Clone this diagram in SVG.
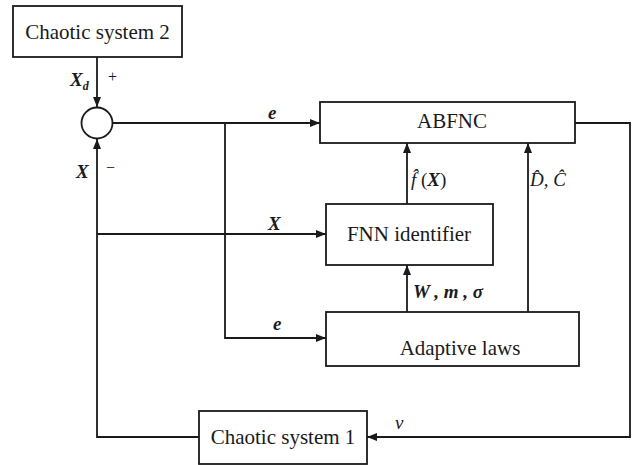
<svg xmlns="http://www.w3.org/2000/svg" width="633" height="465" viewBox="0 0 633 465">
<style>
.box{fill:#fff;stroke:#1a1a1a;stroke-width:1.8}
.ln{fill:none;stroke:#1a1a1a;stroke-width:1.8}
.t{font-family:"Liberation Serif","Times New Roman",serif;font-size:21px;fill:#1a1a1a;text-anchor:middle}
.m{font-family:"Liberation Serif","Times New Roman",serif;font-size:19px;font-style:italic;font-weight:bold;fill:#1a1a1a}
.mi{font-family:"Liberation Serif","Times New Roman",serif;font-size:19px;font-style:italic;font-weight:normal;fill:#1a1a1a}
.s{font-family:"Liberation Serif","Times New Roman",serif;font-size:16px;fill:#1a1a1a}
</style>
<defs>
<marker id="ah" viewBox="0 0 10 8" refX="10" refY="4" markerWidth="10" markerHeight="8" markerUnits="userSpaceOnUse" orient="auto">
<path d="M0,0 L10,4 L0,8 Z" fill="#1a1a1a"/>
</marker>
</defs>
<rect width="633" height="465" fill="#fff"/>
<g id="connectors">
<line class="ln" x1="97" y1="57" x2="97" y2="107" marker-end="url(#ah)"/>
<line class="ln" x1="113" y1="123" x2="320" y2="123" marker-end="url(#ah)"/>
<polyline class="ln" points="225,123 225,338 326,338" marker-end="url(#ah)"/>
<polyline class="ln" points="199,437 97,437 97,139" marker-end="url(#ah)"/>
<line class="ln" x1="97" y1="234" x2="326" y2="234" marker-end="url(#ah)"/>
<line class="ln" x1="407" y1="204" x2="407" y2="143" marker-end="url(#ah)"/>
<line class="ln" x1="528" y1="312" x2="528" y2="143" marker-end="url(#ah)"/>
<line class="ln" x1="407" y1="312" x2="407" y2="265" marker-end="url(#ah)"/>
<polyline class="ln" points="575,123 630,123 630,437 367,437" marker-end="url(#ah)"/>
<text class="m" x="268" y="119">e</text>
<text class="m" x="268" y="230">X</text>
<text class="m" x="273" y="330">e</text>
<text class="m" x="70" y="86">X<tspan font-size="12" dy="4">d</tspan></text>
<text class="s" x="108" y="82">+</text>
<text class="m" x="76" y="178">X</text>
<text class="s" x="106" y="173">−</text>
<text class="mi" x="411" y="186">f̂<tspan style="font-style:normal"> (</tspan><tspan style="font-weight:bold">X</tspan><tspan style="font-style:normal">)</tspan></text>
<text class="mi" x="530" y="186">D̂, Ĉ</text>
<text class="m" x="413" y="298">W , m , σ</text>
<text class="mi" x="395" y="429">v</text>
</g>
<g id="chaotic2">
<rect class="box" x="13" y="6" width="169" height="51"/>
<text class="t" x="97.5" y="39">Chaotic system 2</text>
</g>
<g id="sum">
<circle class="ln" cx="97" cy="123" r="15.5"/>
</g>
<g id="abfnc">
<rect class="box" x="320" y="102" width="255" height="41"/>
<text class="t" x="452" y="128">ABFNC</text>
</g>
<g id="fnn">
<rect class="box" x="326" y="204" width="167" height="61"/>
<text class="t" x="409" y="241">FNN identifier</text>
</g>
<g id="adaptive">
<rect class="box" x="326" y="312" width="253" height="54"/>
<text class="t" x="460" y="355">Adaptive laws</text>
</g>
<g id="chaotic1">
<rect class="box" x="199" y="411" width="168" height="53"/>
<text class="t" x="283" y="444">Chaotic system 1</text>
</g>
</svg>
